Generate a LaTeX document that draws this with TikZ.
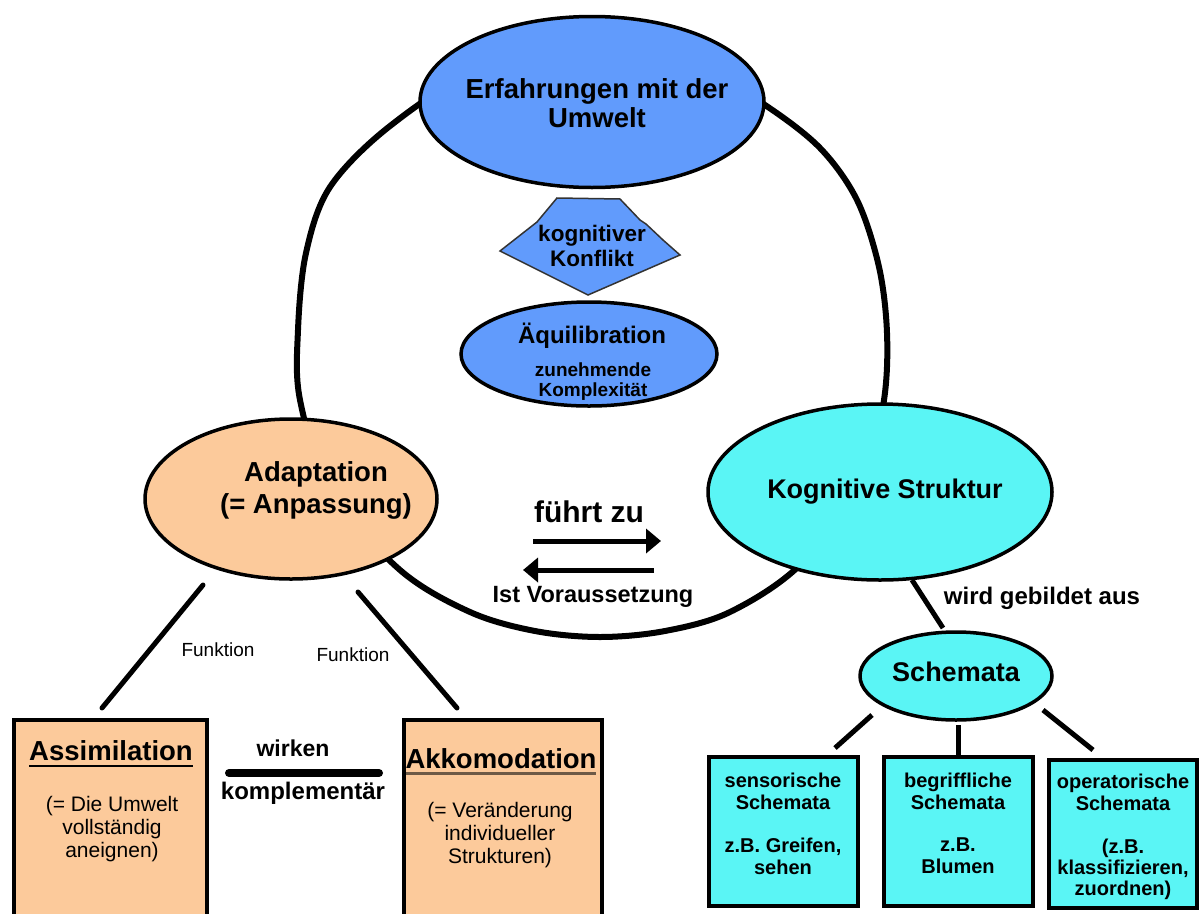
\documentclass[tikz,border=0pt]{standalone}
\usepackage{fontspec}
\setmainfont{Liberation Sans}
\usetikzlibrary{shapes.geometric,arrows.meta}
\definecolor{eblue}{RGB}{97,155,252}
\definecolor{ecyan}{RGB}{90,245,245}
\definecolor{epeach}{RGB}{252,202,155}
\definecolor{ulbrown}{RGB}{110,90,70}
\begin{document}
\begin{tikzpicture}[x=1pt,y=-1pt,
  ell/.style={ellipse,draw=black,line width=3.5pt,inner sep=0pt},
  boxA/.style={rectangle,draw=black,line width=4pt,fill=epeach},
  boxS/.style={rectangle,draw=black,line width=4pt,fill=ecyan},
  link/.style={line width=5pt,line cap=round},
  txt/.style={inner sep=0pt,align=center,text=black},
  big/.style={txt,font=\bfseries\fontsize{25}{30}\selectfont},
  small/.style={txt,font=\fontsize{21}{23}\selectfont},
  btxt/.style={txt,font=\bfseries\fontsize{20}{22}\selectfont},
  arr/.style={line width=5pt,-{Triangle[length=15pt,width=24pt]}}
]
\clip (0,0) rectangle (1199,913);
\useasboundingbox (0,0) rectangle (1199,913);

% big cycle (hand-drawn loop)
\draw[line width=6pt] plot[smooth cycle,tension=0.55] coordinates {
  (590,55) (700,68) (765,105) (820,148) (857,200) (879,267) (887,333) (884,400)
  (865,480) (800,565) (730,612) (665,631) (600,637) (535,631) (470,612) (400,570)
  (330,490) (300,400) (298,330) (306,253) (330,187) (390,126) (480,70)};

% top ellipse
\node[ell,fill=eblue,minimum width=344pt,minimum height=171pt] (erf) at (592,102) {};
\node[big,font=\bfseries\fontsize{27.5}{29}\selectfont] (erft) at (597,103) {Erfahrungen mit der\\Umwelt};

% kite
\filldraw[fill=eblue,draw=black!80,line width=1.5pt]
  (557,198) -- (620,199) -- (640,220) -- (646,224) -- (663,240) -- (680,255)
  -- (588,295) -- (500,251) -- (537,222) -- cycle;
\node[big,font=\bfseries\fontsize{22.5}{25}\selectfont] (kon) at (592,246) {kognitiver\\Konflikt};

% Aequilibration
\node[ell,fill=eblue,minimum width=256pt,minimum height=104pt] (aeq) at (589,354) {};
\node[big,font=\bfseries\fontsize{24}{26}\selectfont] (aeqt) at (592,336) {Äquilibration};
\node[btxt,font=\bfseries\fontsize{19}{20}\selectfont] (aeqs) at (593,382) {zunehmende\\Komplexität};

% Adaptation
\node[ell,fill=epeach,minimum width=292pt,minimum height=160pt] (ada) at (291,499) {};
\node[big,font=\bfseries\fontsize{27.5}{32}\selectfont] (adat) at (316,490) {Adaptation\\(= Anpassung)};

% Kognitive Struktur
\node[ell,fill=ecyan,minimum width=344pt,minimum height=176pt] (kog) at (880,492) {};
\node[big,font=\bfseries\fontsize{27}{28}\selectfont] (kogt) at (885,492) {Kognitive Struktur};

% fuehrt zu arrows
\node[big,font=\bfseries\fontsize{30}{30}\selectfont] (fz) at (589,512) {führt zu};
\coordinate (a1s) at (533,541);
\coordinate (a1e) at (661,541);
\coordinate (a2s) at (654,570);
\coordinate (a2e) at (523,570);
\draw[arr] (a1s) -- (a1e);
\draw[arr] (a2s) -- (a2e);
\node[big,font=\bfseries\fontsize{23.5}{26}\selectfont] (iv) at (593,597) {Ist Voraussetzung};

% Schemata
\coordinate (k1) at (912,580);
\coordinate (k2) at (943,628);
\draw[link,line cap=butt] (k1) -- (k2);
\node[big,font=\bfseries\fontsize{24}{26}\selectfont] (wga) at (1042,598) {wird gebildet aus};
\node[ell,fill=ecyan,minimum width=192pt,minimum height=88pt] (sch) at (956,676) {};
\node[big,font=\bfseries\fontsize{27}{28}\selectfont] (scht) at (956,672) {Schemata};

% schemata boxes
\node[boxS,minimum width=149pt,minimum height=149pt] (sen) at (783.5,831.5) {};
\node[boxS,minimum width=149pt,minimum height=149pt] (beg) at (958.5,831.5) {};
\node[boxS,minimum width=148pt,minimum height=148pt] (ope) at (1123,834) {};
\node[btxt] (sen1) at (783,791) {sensorische\\Schemata};
\node[btxt] (sen2) at (783,856) {z.B. Greifen,\\sehen};
\node[btxt] (beg1) at (958,791) {begriffliche\\Schemata};
\node[btxt] (beg2) at (958,856) {z.B.\\Blumen};
\node[btxt] (ope1) at (1123,792) {operatorische\\Schemata};
\node[btxt,font=\bfseries\fontsize{20}{21}\selectfont] (ope2) at (1123,869) {(z.B.\\klassifizieren,\\zuordnen)};
\coordinate (s1a) at (872,715);
\coordinate (s1b) at (835,748);
\coordinate (s2a) at (958,725);
\coordinate (s2b) at (958,757);
\coordinate (s3a) at (1043,710);
\coordinate (s3b) at (1093,750);
\draw[link,line cap=butt] (s1a) -- (s1b);
\draw[link,line cap=butt] (s2a) -- (s2b);
\draw[link,line cap=butt] (s3a) -- (s3b);

% Adaptation links
\coordinate (f1a) at (203,585);
\coordinate (f1b) at (102,708);
\coordinate (f2a) at (358,592);
\coordinate (f2b) at (457,708);
\draw[link] (f1a) -- (f1b);
\draw[link] (f2a) -- (f2b);
\node[small,font=\fontsize{19}{20}\selectfont] (fu1) at (218,650) {Funktion};
\node[small,font=\fontsize{19}{20}\selectfont] (fu2) at (353,655) {Funktion};

% Assimilation / Akkomodation boxes
\node[boxA,minimum width=193pt,minimum height=220pt,anchor=north west] (asm) at (12,718) {};
\node[boxA,minimum width=198pt,minimum height=220pt,anchor=north west] (akk) at (402,718) {};
\node[big,font=\bfseries\fontsize{27.5}{28}\selectfont] (asmt) at (111,751) {Assimilation};
\draw[line width=2pt] (29,766) -- (193,766);
\node[small] (asms) at (112,829) {(= Die Umwelt\\vollständig\\aneignen)};
\node[big,font=\bfseries\fontsize{27.5}{28}\selectfont] (akkt) at (501,759) {Akkomodation};
\draw[line width=3pt,ulbrown] (406,773) -- (596,773);
\node[small] (akks) at (500,835) {(= Veränderung\\individueller\\Strukturen)};

% wirken komplementaer
\node[big,font=\bfseries\fontsize{23}{26}\selectfont] (wir) at (293,748) {wirken};
\coordinate (w1) at (229,773);
\coordinate (w2) at (379,773);
\draw[line width=8pt,line cap=round] (w1) -- (w2);
\node[big,font=\bfseries\fontsize{24}{26}\selectfont] (kom) at (303,793) {komplementär};
\end{tikzpicture}
\end{document}
